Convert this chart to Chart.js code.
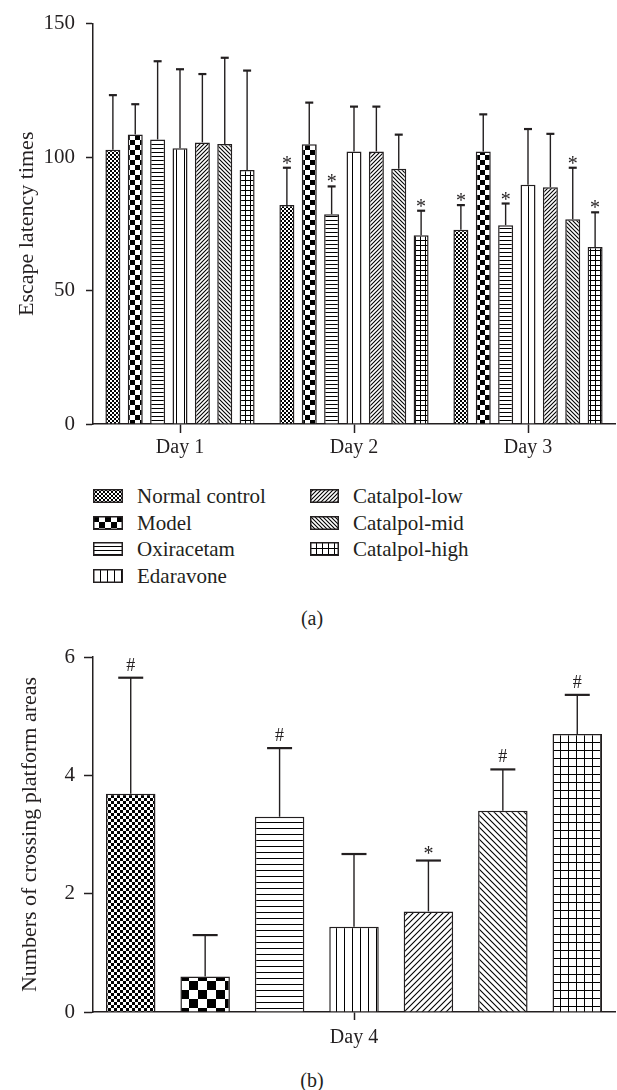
<!DOCTYPE html>
<html>
<head>
<meta charset="utf-8">
<script src="https://cdn.jsdelivr.net/npm/chart.js@4.4.1/dist/chart.umd.min.js"></script>
<style>
  body { margin: 0; background: #fff; width: 617px; height: 1090px; position: relative; overflow: hidden;
         font-family: "Liberation Serif", "Times New Roman", serif; color: #231f20; }
  .box { position: absolute; left: 0; width: 617px; }
  .leg { position: absolute; height: 24px; line-height: 24px; font-size: 21px; white-space: nowrap; }
  .leg canvas { position: absolute; left: 0; top: 5px; }
  .leg span { position: absolute; top: 0; }
  .cap { position: absolute; width: 40px; text-align: center; font-size: 20px; line-height: 24px; }
</style>
</head>
<body>
<div class="box" style="top:0;height:470px"><canvas id="latency" width="617" height="470"></canvas></div>
<div id="legend"></div>
<div class="cap" style="left:292px;top:606px">(a)</div>
<div class="box" style="top:630px;height:430px"><canvas id="crossing" width="617" height="430"></canvas></div>
<div class="cap" style="left:292px;top:1068px">(b)</div>

<script>
// ---- data ----
const groups = ['Normal control', 'Model', 'Oxiracetam', 'Edaravone', 'Catalpol-low', 'Catalpol-mid', 'Catalpol-high'];
const days = ['Day 1', 'Day 2', 'Day 3'];

// escape latency, one array per day (order = groups)
const day1Mean = [102.7, 108.5, 106.6, 103.3, 105.5, 104.9, 95.2];
const day1Sd   = [20.5, 11.3, 29.3, 29.6, 25.6, 32.3, 37.2];
const day1Mark = ['', '', '', '', '', '', ''];
const day2Mean = [82.0, 104.8, 78.6, 102.1, 102.1, 95.6, 70.7];
const day2Sd   = [14.0, 15.6, 10.4, 16.8, 16.8, 12.8, 9.2];
const day2Mark = ['*', '', '*', '', '', '', '*'];
const day3Mean = [72.8, 102.1, 74.5, 89.6, 88.7, 76.7, 66.3];
const day3Sd   = [9.2, 13.9, 8.1, 20.9, 20.0, 19.3, 13.0];
const day3Mark = ['*', '', '*', '', '', '*', '*'];
const latencyTicks = [0, 50, 100, 150];

// crossing platform areas, day 4
const day4Label = ['Day 4'];
const crossMean = [3.69, 0.60, 3.30, 1.44, 1.70, 3.40, 4.70];
const crossSd   = [1.96, 0.70, 1.16, 1.23, 0.86, 0.70, 0.66];
const crossMark = ['#', '', '#', '', '*', '#', '#'];
const crossTicks = [0, 2, 4, 6];

// ---- fills ----
const kinds = ['dots', 'checker', 'hlines', 'vlines', 'diagUp', 'diagDown', 'grid'];
const topSizes = { dots: 2, checker: 5, hlines: 4, vlines: 8, diagUp: 4, diagDown: 4, grid: 5 };
const botSizes = { dots: 3, checker: 9, hlines: 6, vlines: 8, diagUp: 6, diagDown: 6, grid: 8 };
const legSizes = { dots: 2, checker: 6, hlines: 4, vlines: 7, diagUp: 4, diagDown: 4, grid: 6 };
const INK = '#231f20';
const FONT = '"Liberation Serif", "Times New Roman", serif';

function makePattern(ctx, kind, s) {
  const c = document.createElement('canvas');
  const w = (kind === 'dots' || kind === 'checker') ? s * 2 : s;
  c.width = w; c.height = w;
  const g = c.getContext('2d');
  g.fillStyle = '#fff'; g.fillRect(0, 0, w, w);
  g.fillStyle = '#000'; g.strokeStyle = '#000'; g.lineWidth = 1.1;
  if (kind === 'dots' || kind === 'checker') {
    g.fillRect(0, 0, s, s); g.fillRect(s, s, s, s);
  } else if (kind === 'hlines') {
    g.fillRect(0, 0, w, 1);
  } else if (kind === 'vlines') {
    g.fillRect(0, 0, 1, w);
  } else if (kind === 'grid') {
    g.fillRect(0, 0, w, 1); g.fillRect(0, 0, 1, w);
  } else if (kind === 'diagUp') {
    g.beginPath();
    g.moveTo(-1, s + 1); g.lineTo(s + 1, -1);
    g.moveTo(-1, 1); g.lineTo(1, -1);
    g.moveTo(s - 1, s + 1); g.lineTo(s + 1, s - 1);
    g.stroke();
  } else if (kind === 'diagDown') {
    g.beginPath();
    g.moveTo(-1, -1); g.lineTo(s + 1, s + 1);
    g.moveTo(s - 1, -1); g.lineTo(s + 1, 1);
    g.moveTo(-1, s - 1); g.lineTo(1, s + 1);
    g.stroke();
  }
  return ctx.createPattern(c, 'repeat');
}

// ---- error bars + significance marks ----
const errorBars = {
  id: 'errorBars',
  afterDatasetsDraw(chart, args, opts) {
    const ctx = chart.ctx;
    const y = chart.scales.y;
    ctx.save();
    ctx.strokeStyle = INK;
    ctx.fillStyle = INK;
    ctx.textAlign = 'center';
    ctx.textBaseline = 'alphabetic';
    chart.data.datasets.forEach((ds, i) => {
      chart.getDatasetMeta(i).data.forEach((bar, j) => {
        const top = y.getPixelForValue(ds.data[j] + ds.errors[j]);
        ctx.lineWidth = 1.4;
        ctx.beginPath(); ctx.moveTo(bar.x, bar.y); ctx.lineTo(bar.x, top); ctx.stroke();
        ctx.lineWidth = 2.2;
        ctx.beginPath(); ctx.moveTo(bar.x - opts.cap / 2, top); ctx.lineTo(bar.x + opts.cap / 2, top); ctx.stroke();
        const m = ds.marks[j];
        if (m === '*') {
          ctx.font = opts.starSize + 'px ' + FONT;
          ctx.fillText(m, bar.x, top + opts.starShift);
        } else if (m === '#') {
          ctx.font = opts.hashSize + 'px ' + FONT;
          ctx.fillText(m, bar.x, top - 7);
        }
      });
    });
    ctx.restore();
  }
};

function axes(max, step, yTitle, titlePad, tickLen, tickPad, xTick, xPad, xHeight) {
  return {
    x: {
      offset: true,
      grid: { display: true, offset: false, drawOnChartArea: false, tickLength: xTick, tickColor: INK, tickWidth: 1.5 },
      border: { display: true, color: INK, width: 1.5 },
      ticks: { color: INK, padding: xPad, font: { family: FONT, size: 20 } },
      afterFit: s => { s.height = xHeight; }
    },
    y: {
      min: 0, max: max,
      grid: { display: true, drawOnChartArea: false, tickLength: tickLen, tickColor: INK, tickWidth: 1.5 },
      border: { display: true, color: INK, width: 1.5 },
      ticks: { stepSize: step, color: INK, padding: tickPad, font: { family: FONT, size: 21 } },
      title: { display: true, text: yTitle, color: INK, padding: { top: titlePad, bottom: 0 }, font: { family: FONT, size: 22 } },
      afterFit: s => { s.width = 93; }
    }
  };
}

// ---- chart (a) ----
const ctxA = document.getElementById('latency').getContext('2d');
const latencyDatasets = groups.map((g, i) => ({
  label: g,
  data: [day1Mean[i], day2Mean[i], day3Mean[i]],
  errors: [day1Sd[i], day2Sd[i], day3Sd[i]],
  marks: [day1Mark[i], day2Mark[i], day3Mark[i]],
  backgroundColor: makePattern(ctxA, kinds[i], topSizes[kinds[i]]),
  borderColor: INK,
  borderWidth: 1.5,
  categoryPercentage: 0.9,
  barPercentage: 0.67
}));

const chartA = new Chart(ctxA, {
  type: 'bar',
  data: { labels: days, datasets: latencyDatasets },
  options: {
    responsive: false,
    animation: false,
    events: [],
    layout: { padding: { left: 0, right: 2, top: 14, bottom: 0 } },
    plugins: {
      legend: { display: false },
      tooltip: { enabled: false },
      errorBars: { cap: 8, starSize: 20, starShift: 2, hashSize: 18 }
    },
    scales: axes(150, 50, 'Escape latency times', 14, 7, 11, 9, 3, 46)
  },
  plugins: [errorBars]
});

// ---- legend (built from the chart's datasets) ----
const legendBox = document.getElementById('legend');
const rowCenters = [496, 522.5, 549, 575.5];
chartA.data.datasets.forEach((ds, i) => {
  const col = i < 4 ? 0 : 1;
  const row = i < 4 ? i : i - 4;
  const item = document.createElement('div');
  item.className = 'leg';
  item.style.left = (col ? 310 : 93) + 'px';
  item.style.top = (rowCenters[row] - 12) + 'px';
  const sw = document.createElement('canvas');
  sw.width = col ? 29 : 30; sw.height = 14;
  const g = sw.getContext('2d');
  g.fillStyle = makePattern(g, kinds[i], legSizes[kinds[i]]);
  g.fillRect(0, 0, sw.width, sw.height);
  g.strokeStyle = INK; g.lineWidth = 1.5;
  g.strokeRect(0.75, 0.75, sw.width - 1.5, sw.height - 1.5);
  const txt = document.createElement('span');
  txt.textContent = ds.label;
  txt.style.left = (col ? 43 : 44) + 'px';
  item.appendChild(sw);
  item.appendChild(txt);
  legendBox.appendChild(item);
});

// ---- chart (b) ----
const ctxB = document.getElementById('crossing').getContext('2d');
const crossDatasets = groups.map((g, i) => ({
  label: g,
  data: [crossMean[i]],
  errors: [crossSd[i]],
  marks: [crossMark[i]],
  backgroundColor: makePattern(ctxB, kinds[i], botSizes[kinds[i]]),
  borderColor: INK,
  borderWidth: 1.5,
  categoryPercentage: 0.998,
  barPercentage: 0.665
}));

new Chart(ctxB, {
  type: 'bar',
  data: { labels: day4Label, datasets: crossDatasets },
  options: {
    responsive: false,
    animation: false,
    events: [],
    layout: { padding: { left: 0, right: 2, top: 27, bottom: 0 } },
    plugins: {
      legend: { display: false },
      tooltip: { enabled: false },
      errorBars: { cap: 25, starSize: 20, starShift: -1, hashSize: 18 }
    },
    scales: axes(6, 2, 'Numbers of crossing platform areas', 17, 9, 9, 8, 6, 48)
  },
  plugins: [errorBars]
});
</script>
</body>
</html>
